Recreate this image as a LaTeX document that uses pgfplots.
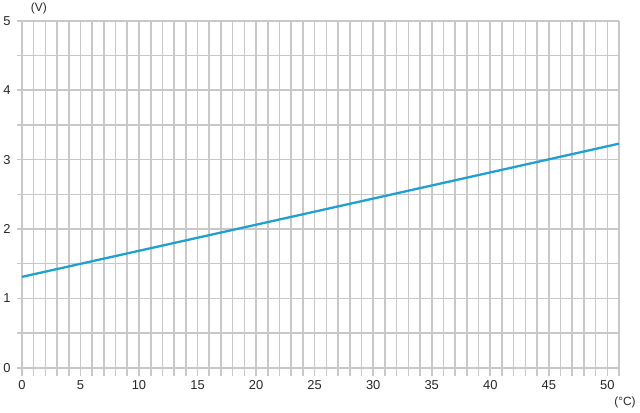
\documentclass[border=0pt]{standalone}
\usepackage{fontspec}
\setmainfont{Liberation Sans}
\usepackage{pgfplots}
\pgfplotsset{compat=1.18}
\definecolor{gridgray}{RGB}{200,200,200}
\definecolor{lineblue}{RGB}{30,160,210}

\begin{document}
\begin{tikzpicture}[x=1bp,y=1bp]
\begin{axis}[
    scale only axis,
    width=604bp, height=356bp,
    xmin=-0.43, xmax=51,
    ymin=-0.115, ymax=5,
    axis line style={draw=none},
    xtick={0,5,...,50},
    minor xtick={0,1,...,51},
    ytick={0,1,...,5},
    minor ytick={0,0.5,...,5},
    grid=both,
    major grid style={gridgray, line width=1.6bp},
    minor grid style={gridgray, line width=1.6bp},
    tick style={draw=none},
    ticklabel style={font=\fontsize{13}{13}\selectfont, text=black!85},
    yticklabel style={anchor=center, xshift=-10bp},
    xticklabel style={anchor=center, yshift=-9bp},
    /pgf/number format/assume math mode=true,
]
\addplot[lineblue, line width=2.3bp] coordinates {(0,1.31) (25,2.25) (51,3.23)};
\end{axis}
\node[font=\fontsize{12}{12}\selectfont, text=black!85] at (22bp,368bp) {(V)};
\node[font=\fontsize{12}{12}\selectfont, text=black!85] at (610bp,-27bp) {(°C)};
\path[use as bounding box] (-15bp,-37bp) rectangle (625bp,376bp);
\end{tikzpicture}
\end{document}
